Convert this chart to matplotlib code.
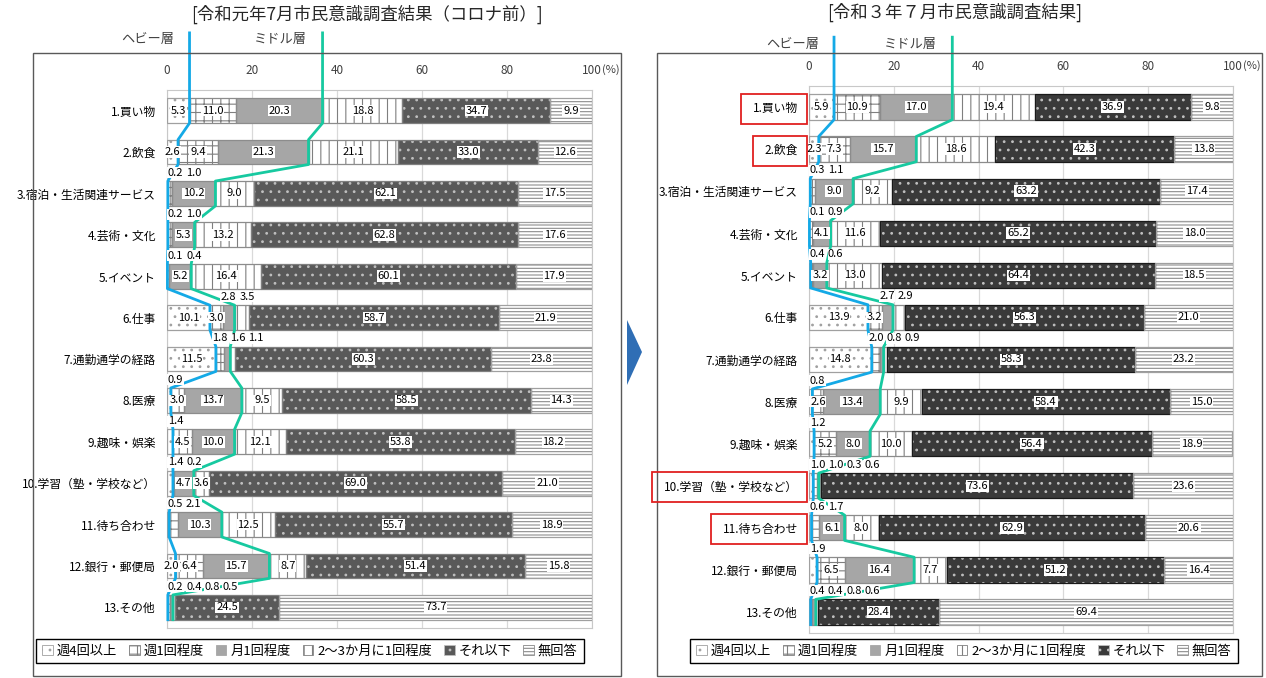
import numpy as np
import matplotlib
matplotlib.use("Agg")
import matplotlib.pyplot as plt
from matplotlib.patches import Patch, Rectangle, Polygon

plt.rcParams['font.family'] = ['Noto Sans CJK JP', 'DejaVu Sans']
plt.rcParams['hatch.linewidth'] = 0.8

# 項目とカテゴリ
categories = ["1.買い物", "2.飲食", "3.宿泊・生活関連サービス", "4.芸術・文化", "5.イベント", "6.仕事",
              "7.通勤通学の経路", "8.医療", "9.趣味・娯楽", "10.学習（塾・学校など）", "11.待ち合わせ",
              "12.銀行・郵便局", "13.その他"]
series = ["週4回以上", "週1回程度", "月1回程度", "2〜3か月に1回程度", "それ以下", "無回答"]
ticks = [0, 20, 40, 60, 80, 100]

# 令和元年7月（コロナ前）
r1_week4 = [5.3, 2.6, 0.2, 0.2, 0.1, 10.1, 11.5, 0.9, 1.4, 1.4, 0.5, 2.0, 0.2]
r1_week1 = [11.0, 9.4, 1.0, 1.0, 0.4, 3.0, 1.8, 3.0, 4.5, 0.2, 2.1, 6.4, 0.4]
r1_month1 = [20.3, 21.3, 10.2, 5.3, 5.2, 2.8, 1.6, 13.7, 10.0, 4.7, 10.3, 15.7, 0.8]
r1_month23 = [18.8, 21.1, 9.0, 13.2, 16.4, 3.5, 1.1, 9.5, 12.1, 3.6, 12.5, 8.7, 0.5]
r1_less = [34.7, 33.0, 62.1, 62.8, 60.1, 58.7, 60.3, 58.5, 53.8, 69.0, 55.7, 51.4, 24.5]
r1_na = [9.9, 12.6, 17.5, 17.6, 17.9, 21.9, 23.8, 14.3, 18.2, 21.0, 18.9, 15.8, 73.7]

# 令和3年7月
r3_week4 = [5.9, 2.3, 0.3, 0.1, 0.4, 13.9, 14.8, 0.8, 1.2, 1.0, 0.6, 1.9, 0.4]
r3_week1 = [10.9, 7.3, 1.1, 0.9, 0.6, 3.2, 2.0, 2.6, 5.2, 1.0, 1.7, 6.5, 0.4]
r3_month1 = [17.0, 15.7, 9.0, 4.1, 3.2, 2.7, 0.8, 13.4, 8.0, 0.3, 6.1, 16.4, 0.8]
r3_month23 = [19.4, 18.6, 9.2, 11.6, 13.0, 2.9, 0.9, 9.9, 10.0, 0.6, 8.0, 7.7, 0.6]
r3_less = [36.9, 42.3, 63.2, 65.2, 64.4, 56.3, 58.3, 58.4, 56.4, 73.6, 62.9, 51.2, 28.4]
r3_na = [9.8, 13.8, 17.4, 18.0, 18.5, 21.0, 23.2, 15.0, 18.9, 23.6, 20.6, 16.4, 69.4]

r1 = [r1_week4, r1_week1, r1_month1, r1_month23, r1_less, r1_na]
r3 = [r3_week4, r3_week1, r3_month1, r3_month23, r3_less, r3_na]

# 棒の外（上）に置くラベル：行 -> 系列
above_r1 = {2: [0, 1], 3: [0, 1], 4: [0, 1], 5: [2, 3], 6: [1, 2, 3], 7: [0], 8: [0],
            9: [0, 1], 10: [0, 1], 12: [0, 1, 2, 3]}
above_r3 = {2: [0, 1], 3: [0, 1], 4: [0, 1], 5: [2, 3], 6: [1, 2, 3], 7: [0], 8: [0],
            9: [0, 1, 2, 3], 10: [0, 1], 11: [0], 12: [0, 1, 2, 3]}

W, H = 1266, 678
fig = plt.figure(figsize=(W / 100, H / 100), dpi=100)


def box(x0, y0, x1, y1):
    return [x0 / W, 1 - y1 / H, (x1 - x0) / W, (y1 - y0) / H]


def styles(dark, dark_edge):
    return [
        dict(fc='white', hc='#a0a0a0', hatch='..', ec='#a0a0a0'),
        dict(fc='white', hc='#7f7f7f', hatch='++', ec='#8c8c8c'),
        dict(fc='#a6a6a6', hc='#a6a6a6', hatch=None, ec='#8c8c8c'),
        dict(fc='white', hc='#7f7f7f', hatch='||', ec='#8c8c8c'),
        dict(fc=dark, hc='#bfbfbf', hatch='..', ec=dark_edge),
        dict(fc='white', hc='#8c8c8c', hatch='-----', ec='#a0a0a0'),
    ]


def draw_panel(ax, data, st, above, top_ext):
    y = np.arange(len(categories))
    left = np.zeros(len(categories))
    for vals, s in zip(data, st):
        vals = np.array(vals)
        ax.barh(y, vals, left=left, height=0.6, color=s['fc'], edgecolor=s['hc'],
                hatch=s['hatch'], linewidth=0, zorder=2)
        ax.barh(y, vals, left=left, height=0.6, fill=False, edgecolor=s['ec'],
                linewidth=0.9, zorder=3)
        left += vals

    # データラベル
    for i in range(len(categories)):
        start = 0.0
        prev = -np.inf
        for j in range(6):
            v = data[j][i]
            c = start + v / 2
            start += v
            if j in above.get(i, []):
                x = max(c, prev + 4.3, 2.0)
                prev = x
                ax.text(x, i - 0.5, f"{v:.1f}", ha='center', va='center', fontsize=8,
                        zorder=6, bbox=dict(fc='white', ec='none', pad=0.3))
            else:
                ax.text(c, i, f"{v:.1f}", ha='center', va='center', fontsize=8,
                        zorder=6, bbox=dict(fc='white', ec='none', pad=0.6))

    # ヘビー層・ミドル層の線
    heavy = np.array(data[0])
    middle = np.array(data[0]) + np.array(data[1]) + np.array(data[2])
    for xs, col, name in [(heavy, '#14a9e6', 'ヘビー層'), (middle, '#17c9a0', 'ミドル層')]:
        px = [xs[0]]
        py = [top_ext]
        for i, xv in enumerate(xs):
            px += [xv, xv]
            py += [i - 0.3, i + 0.3]
        ax.plot(px, py, color=col, lw=2, zorder=5, clip_on=False)
        ax.annotate(name, xy=(xs[0], top_ext), xytext=(-30, -5), textcoords='offset points',
                    ha='center', va='center', fontsize=9.5, color='#404040',
                    annotation_clip=False)

    ax.set_xlim(0, 100)
    ax.set_ylim(len(categories) - 0.5, -0.5)
    ax.set_xticks(ticks)
    ax.xaxis.tick_top()
    ax.tick_params(axis='x', length=0, pad=9, labelsize=8.5, colors='#404040')
    ax.set_yticks(np.arange(len(categories)))
    ax.set_yticklabels(categories, fontsize=8.5)
    ax.tick_params(axis='y', length=0, pad=8)
    ax.grid(axis='x', color='#d9d9d9', lw=0.9, zorder=0)
    ax.set_axisbelow(True)
    for sp in ax.spines.values():
        sp.set_color('#c8c8c8')
    ax.annotate("(%)", xy=(100, 1), xycoords=('data', 'axes fraction'), xytext=(7, 15),
                textcoords='offset points', ha='left', va='center', fontsize=8,
                color='#404040', annotation_clip=False)


# パネル枠
for x0, x1 in [(33, 621), (657, 1262)]:
    fig.add_artist(Rectangle((x0 / W, 1 - 676 / H), (x1 - x0) / W, (676 - 53) / H,
                             transform=fig.transFigure, fill=False, ec='#595959', lw=1.0))

ax_l = fig.add_axes(box(167, 90, 592, 628))
ax_r = fig.add_axes(box(809, 86, 1233, 633))

st_l = styles('#595959', '#7f7f7f')
st_r = styles('#3a3a3a', '#1a1a1a')
draw_panel(ax_l, r1, st_l, above_r1, -1.88)
draw_panel(ax_r, r3, st_r, above_r3, -1.66)

fig.text(367 / W, 1 - 14 / H, "[令和元年7月市民意識調査結果（コロナ前）]", ha='center', va='center',
         fontsize=12.5, color='#262626')
fig.text(955 / W, 1 - 12 / H, "[令和３年７月市民意識調査結果]", ha='center', va='center',
         fontsize=12.5, color='#262626')

# 凡例
for st, cx in [(st_l, 310), (st_r, 964)]:
    handles = [Patch(facecolor=s['fc'], edgecolor=s['hc'], hatch=s['hatch'], linewidth=0.6)
               for s in st]
    leg = fig.legend(handles, series, loc='center', bbox_to_anchor=(cx / W, 1 - 651 / H), ncol=6,
                     fontsize=9.5, frameon=True, fancybox=False, edgecolor='black',
                     handlelength=0.8, handleheight=0.8, handletextpad=0.3, columnspacing=0.9,
                     borderpad=0.45, framealpha=1)
    leg.get_frame().set_linewidth(1.0)

# 矢印
fig.add_artist(Polygon([(627 / W, 1 - 320 / H), (642 / W, 1 - 352 / H), (627 / W, 1 - 385 / H)],
                       closed=True, transform=fig.transFigure, fc='#2f6eb5', ec='none'))

# 赤枠（令和3年の強調項目）
fig.canvas.draw()
renderer = fig.canvas.get_renderer()
ax_left_px = ax_r.get_window_extent(renderer).x0
for i in [0, 1, 9, 10]:
    bb = ax_r.get_yticklabels()[i].get_window_extent(renderer)
    yc = (bb.y0 + bb.y1) / 2
    x0 = bb.x0 - 12
    x1 = ax_left_px - 2
    fig.add_artist(Rectangle((x0 / W, (yc - 15) / H), (x1 - x0) / W, 30 / H,
                             transform=fig.transFigure, fill=False, ec='#e02020', lw=1.3))

fig.savefig("out.png", dpi=100)
